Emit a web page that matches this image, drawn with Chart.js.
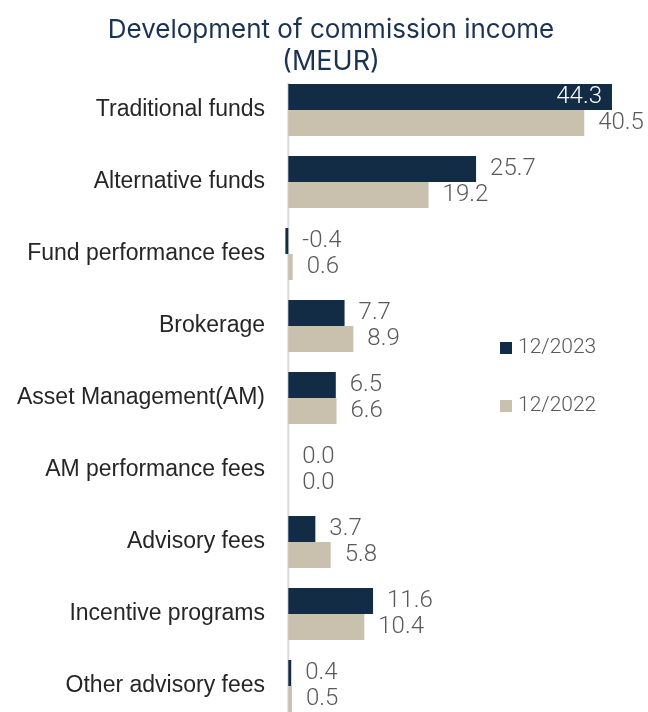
<!DOCTYPE html>
<html>
<head>
<meta charset="utf-8">
<script src="https://cdn.jsdelivr.net/npm/chart.js@4.4.1/dist/chart.umd.min.js"></script>
<style>
  html, body { margin: 0; padding: 0; width: 648px; height: 712px; overflow: hidden; background: #fff; }
  #wrap { position: absolute; left: 0; top: 0; width: 648px; height: 722px; }
  .title { position: absolute; left: 0; width: 662px; text-align: center; font-family: Inter, "Liberation Sans", sans-serif; font-size: 26px; line-height: 30px; color: #1b3352; white-space: nowrap; }
  .leg { position: absolute; left: 500px; font-family: Roboto, sans-serif; font-weight: 300; font-size: 21px; color: #595959; line-height: 24px; white-space: nowrap; }
  .leg span.sw { display: inline-block; width: 12px; height: 12px; margin-right: 6px; vertical-align: -1px; }
</style>
</head>
<body>
<div id="wrap"><canvas id="c" width="648" height="722"></canvas></div>
<div class="title" style="top:14px">Development of commission income</div>
<div class="title" style="top:46px;font-size:27px">(MEUR)</div>
<div class="leg" style="top:334px"><span class="sw" style="background:#122c46"></span>12/2023</div>
<div class="leg" style="top:392px"><span class="sw" style="background:#c9c1ae"></span>12/2022</div>
<script>
const categories = ["Traditional funds", "Alternative funds", "Fund performance fees", "Brokerage", "Asset Management(AM)", "AM performance fees", "Advisory fees", "Incentive programs", "Other advisory fees"];
const seriesNames = ["12/2023", "12/2022"];
const values2023 = [44.3, 25.7, -0.4, 7.7, 6.5, 0.0, 3.7, 11.6, 0.4];
const values2022 = [40.5, 19.2, 0.6, 8.9, 6.6, 0.0, 5.8, 10.4, 0.5];

const NAVY = "#122c46";
const BEIGE = "#c9c1ae";

const labelPlugin = {
  id: "valueLabels",
  beforeDatasetsDraw(chart) {
    const ctx = chart.ctx;
    const x0 = chart.scales.x.getPixelForValue(0);
    ctx.save();
    ctx.strokeStyle = "#d9d9d9";
    ctx.lineWidth = 2;
    ctx.beginPath();
    ctx.moveTo(x0, chart.chartArea.top + 9);
    ctx.lineTo(x0, chart.height);
    ctx.stroke();
    ctx.restore();
  },
  afterDatasetsDraw(chart) {
    const ctx = chart.ctx;
    const x0 = chart.scales.x.getPixelForValue(0);
    ctx.save();
    ctx.font = "300 24px Roboto";
    ctx.textBaseline = "middle";
    chart.data.datasets.forEach((ds, di) => {
      const meta = chart.getDatasetMeta(di);
      meta.data.forEach((bar, i) => {
        const v = ds.data[i];
        const txt = v.toFixed(1);
        const w = ctx.measureText(txt).width;
        const end = Math.max(bar.x, x0);
        if (end + 14 + w > chart.width) {
          ctx.fillStyle = "#ffffff";
          ctx.textAlign = "right";
          ctx.fillText(txt, bar.x - 10, bar.y);
        } else {
          ctx.fillStyle = "#595959";
          ctx.textAlign = "left";
          ctx.fillText(txt, end + 14, bar.y);
        }
      });
    });
    ctx.restore();
  }
};

new Chart(document.getElementById("c"), {
  type: "bar",
  data: {
    labels: categories,
    datasets: [
      { label: seriesNames[0], data: values2023, backgroundColor: NAVY, categoryPercentage: 0.722, barPercentage: 1.0 },
      { label: seriesNames[1], data: values2022, backgroundColor: BEIGE, categoryPercentage: 0.722, barPercentage: 1.0 }
    ]
  },
  options: {
    indexAxis: "y",
    responsive: false,
    animation: false,
    layout: { padding: { top: 74, right: 9, left: 0, bottom: 0 } },
    scales: {
      x: { display: false, min: -1, max: 48 },
      y: {
        grid: { display: false, drawTicks: false },
        border: { display: false },
        ticks: { color: "#262626", font: { family: "Liberation Sans", size: 23 }, padding: 16 },
        afterFit(s) { s.width = 281; s.paddingTop = 0; s.paddingBottom = 0; }
      }
    },
    plugins: { legend: { display: false }, tooltip: { enabled: false }, title: { display: false } }
  },
  plugins: [labelPlugin]
});
</script>
</body>
</html>
